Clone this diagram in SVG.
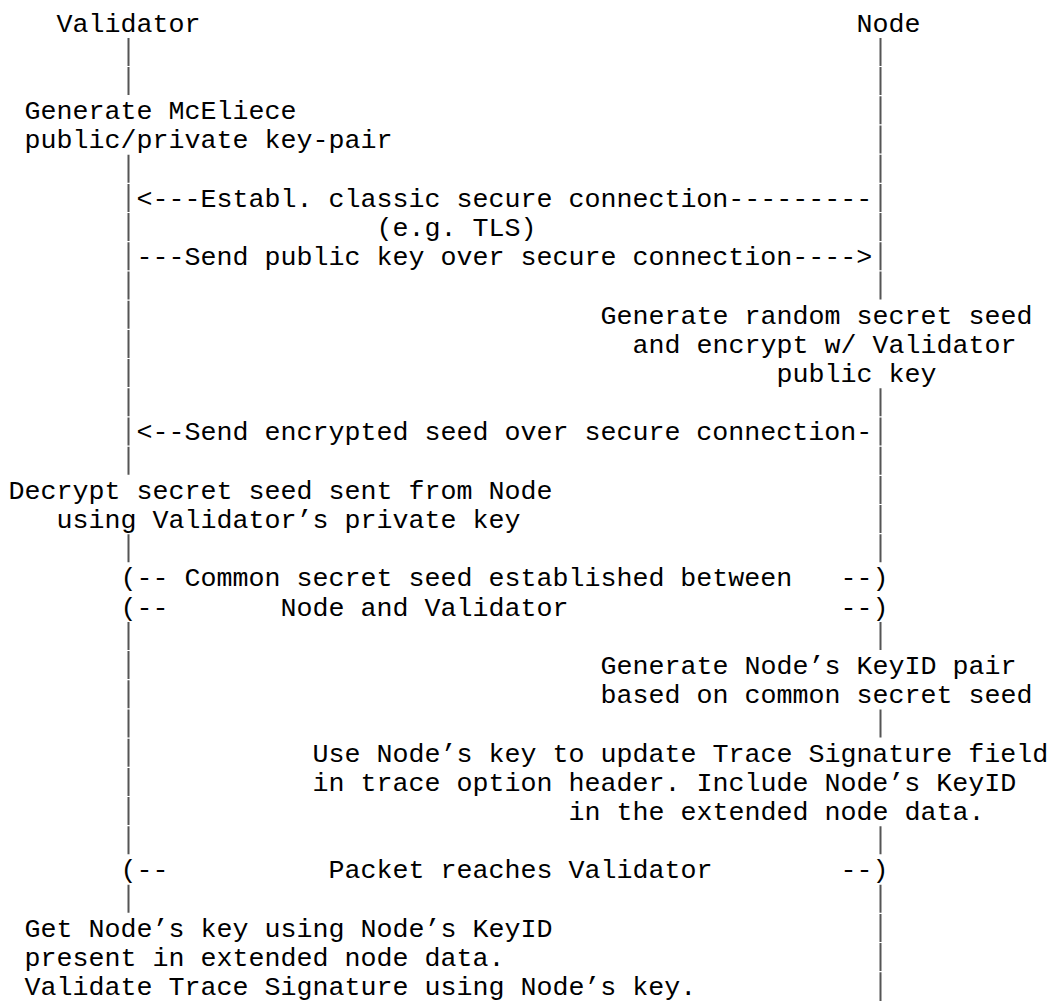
<svg xmlns="http://www.w3.org/2000/svg" width="1051" height="1003" viewBox="0 0 1051 1003">
  <style>
    .t { font-family: "Liberation Mono", "Courier New", monospace; font-size: 26.67px; fill: #000; }
    .life { fill: none; stroke: #555; stroke-width: 2; }
  </style>
  <rect width="1051" height="1003" fill="#fff"/>

  <!-- Participants -->
  <g id="validator">
    <text class="t" x="56.5" y="31.5">Validator</text>
  </g>
  <g id="node">
    <text class="t" x="856.5" y="31.5">Node</text>
  </g>

  <!-- Lifelines (one segment per text row) and messages -->
  <g id="connectors">
    <path id="validator-lifeline" class="life" d="
      M128.5 37.9V65.9 M128.5 67.1V95.1
      M128.5 154.7V182.7 M128.5 183.9V211.9 M128.5 213.1V241.1 M128.5 242.3V270.3
      M128.5 271.5V299.5 M128.5 300.7V328.7 M128.5 329.9V357.9 M128.5 359.1V387.1
      M128.5 388.3V416.3 M128.5 417.5V445.5 M128.5 446.7V474.7
      M128.5 534.3V562.3
      M128.5 621.9V649.9 M128.5 651.1V679.1 M128.5 680.3V708.3 M128.5 709.5V737.5
      M128.5 738.7V766.7 M128.5 767.9V795.9 M128.5 797.1V825.1 M128.5 826.3V854.3
      M128.5 884.7V912.7"/>
    <path id="node-lifeline" class="life" d="
      M880.5 37.9V65.9 M880.5 67.1V95.1 M880.5 96.3V124.3 M880.5 125.5V153.5
      M880.5 154.7V182.7 M880.5 183.9V211.9 M880.5 213.1V241.1 M880.5 242.3V270.3
      M880.5 271.5V299.5
      M880.5 388.3V416.3 M880.5 417.5V445.5 M880.5 446.7V474.7 M880.5 475.9V503.9
      M880.5 505.1V533.1 M880.5 534.3V562.3
      M880.5 621.9V649.9
      M880.5 709.5V737.5
      M880.5 826.3V854.3
      M880.5 884.7V912.7 M880.5 913.9V941.9 M880.5 943.1V971.1 M880.5 972.3V1001"/>

    <g id="msg-tls">
      <text class="t" x="136.5" y="206.7">&lt;---Establ. classic secure connection---------</text>
      <text class="t" x="376.5" y="235.9">(e.g. TLS)</text>
    </g>
    <g id="msg-public-key">
      <text class="t" x="136.5" y="265.1">---Send public key over secure connection----&gt;</text>
    </g>
    <g id="msg-encrypted-seed">
      <text class="t" x="136.5" y="440.3">&lt;--Send encrypted seed over secure connection-</text>
    </g>
  </g>

  <!-- Validator-side steps -->
  <g id="keygen">
    <text class="t" x="24.5" y="119.1">Generate McEliece</text>
    <text class="t" x="24.5" y="148.3">public/private key-pair</text>
  </g>
  <g id="decrypt">
    <text class="t" x="8.5" y="498.7">Decrypt secret seed sent from Node</text>
    <text class="t" x="56.5" y="527.9">using Validator’s private key</text>
  </g>
  <g id="validate">
    <text class="t" x="24.5" y="936.7">Get Node’s key using Node’s KeyID</text>
    <text class="t" x="24.5" y="965.9">present in extended node data.</text>
    <text class="t" x="24.5" y="995.1">Validate Trace Signature using Node’s key.</text>
  </g>

  <!-- Node-side steps -->
  <g id="seed-gen">
    <text class="t" x="600.5" y="323.5">Generate random secret seed</text>
    <text class="t" x="632.5" y="352.7">and encrypt w/ Validator</text>
    <text class="t" x="776.5" y="381.9">public key</text>
  </g>
  <g id="keyid-gen">
    <text class="t" x="600.5" y="673.9">Generate Node’s KeyID pair</text>
    <text class="t" x="600.5" y="703.1">based on common secret seed</text>
  </g>
  <g id="sign">
    <text class="t" x="312.5" y="761.5">Use Node’s key to update Trace Signature field</text>
    <text class="t" x="312.5" y="790.7">in trace option header. Include Node’s KeyID</text>
    <text class="t" x="568.5" y="819.9">in the extended node data.</text>
  </g>

  <!-- Spanning notes -->
  <g id="seed-established">
    <text class="t" x="120.5" y="586.3">(-- Common secret seed established between</text>
    <text class="t" x="840.5" y="586.3">--)</text>
    <text class="t" x="120.5" y="615.5">(--</text>
    <text class="t" x="280.5" y="615.5">Node and Validator</text>
    <text class="t" x="840.5" y="615.5">--)</text>
  </g>
  <g id="packet-arrives">
    <text class="t" x="120.5" y="878.3">(--</text>
    <text class="t" x="328.5" y="878.3">Packet reaches Validator</text>
    <text class="t" x="840.5" y="878.3">--)</text>
  </g>
</svg>
